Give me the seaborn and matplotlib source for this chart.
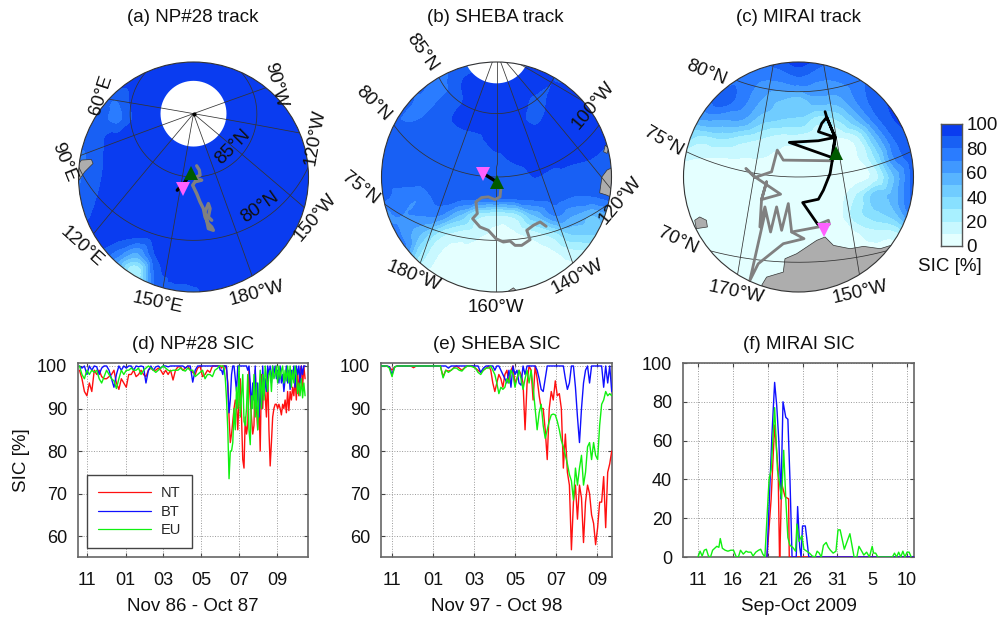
import numpy as np
import pandas as pd
import matplotlib
matplotlib.use("Agg")
import matplotlib.pyplot as plt
from matplotlib.colors import ListedColormap, BoundaryNorm
from matplotlib.patches import Circle, Polygon
from matplotlib.lines import Line2D
from matplotlib.tri import Triangulation, CubicTriInterpolator
import seaborn as sns

sns.set_theme(style="white")
plt.rcParams['font.family'] = ['Liberation Sans', 'DejaVu Sans']

W, H = 999, 619
# ---------------- SIC colour classes ----------------
sic_levels = [0, 10, 20, 30, 40, 50, 60, 70, 80, 90, 100]
sic_colors = ['#e4ffff', '#c8f8ff', '#a8f0ff', '#88e0ff', '#70ccff',
              '#58b4ff', '#4098ff', '#2a7cff', '#1860f4', '#0a3cf0']
TRK_GRAY = '#808080'
PINK = '#ff60ff'
DKGREEN = '#005a00'

sic_a = [
 [95]*13,
 [92,92,93,95,95,95,95,95,95,95,95,95,95],
 [85,85,80,95,95,95,95,95,95,95,95,95,95],
 [85,85,77,92,95,95,95,95,95,95,95,95,95],
 [85,88,93,95,95,95,95,95,95,95,95,95,95],
 [75,87,95,95,95,95,95,95,95,95,95,95,95],
 [78,88,95,95,95,95,95,95,95,95,95,95,95],
 [80,90,95,95,95,95,95,95,95,95,95,95,95],
 [85,92,95,95,95,95,95,95,95,95,95,95,95],
 [90,95,95,93,95,95,95,95,95,95,95,95,95],
 [95,90,75,58,90,95,95,95,95,95,95,95,95],
 [95,90,50,20,82,92,95,95,95,95,95,95,95],
 [95,95,90,70,85,88,88,95,95,95,95,95,95],
]
sic_b = [
 [85,85,85,85,85,85,85,90,90,90,90,90,90],
 [85,85,85,75,88,95,95,95,95,90,90,92,92],
 [85,85,78,80,88,95,95,95,88,92,95,95,95],
 [85,80,80,85,92,95,95,93,88,95,95,95,95],
 [85,85,85,85,85,88,95,95,95,95,95,95,90],
 [85,85,85,85,85,85,88,92,95,95,92,90,85],
 [85,85,85,85,85,85,85,85,90,85,85,85,85],
 [85,75,72,85,85,85,85,85,85,85,80,80,85],
 [70,70,70,70,50,25,20,25,50,70,60,50,60],
 [85,70,50,25,15,12,8,8,15,25,40,40,40],
 [85,75,30,10,8,8,5,5,5,8,15,15,15],
 [60,30,10,5,5,5,5,5,5,5,5,5,5],
 [5,5,5,5,5,5,5,5,5,5,5,5,5],
]
sic_c = [
 [75,75,75,80,80,85,95,85,75,75,85,90,95],
 [70,70,75,78,70,70,75,70,70,75,85,90,95],
 [70,75,85,75,60,50,45,55,55,70,85,92,95],
 [55,60,60,60,45,40,38,25,30,50,75,90,95],
 [35,25,30,25,20,15,15,10,8,15,50,80,90],
 [12,10,10,10,10,8,5,5,5,8,30,70,88],
 [5,5,5,5,5,5,5,5,3,5,15,50,85],
 [5,5,5,5,5,5,5,5,5,20,45,55,85],
 [5,5,5,5,5,5,5,5,5,25,35,45,75],
 [5,5,5,5,5,5,5,5,5,8,15,15,25],
 [5,5,5,5,5,5,5,5,5,5,5,5,8],
 [5]*13,
 [5]*13,
]

# ---------------- map frames (plane units; radius 344) ----------------
MAP_R = 344.0
map_cx = [193.5, 496.5, 798.5]
map_lat0 = [85.0, 80.0, 75.0]
map_lon0 = [160.0, -160.0, -160.0]
map_span = [9.1, 9.1, 6.75]
merid_a = [60, 90, 120, 150, 180, 210, 240, 270]
merid_b = [180, 200, 220, 240, 260]
merid_c = [190, 210]
parallels_a = [80, 85]
parallels_b = [75, 80, 85]
parallels_c = [70, 75, 80]
hole_lat = 87.4

# tracks, read in plane units from an origin at the top-left of each map box
track_a_black_x = [452, 435, 412]
track_a_black_y = [520, 545, 570]
track_a_gray_x = [470, 478, 480, 470, 465, 485, 465, 458, 470, 480, 490, 495, 505, 515, 520, 505, 500, 495, 505, 510, 505, 515]
track_a_gray_y = [497, 510, 525, 530, 537, 540, 545, 555, 580, 605, 625, 650, 670, 680, 690, 685, 660, 635, 610, 625, 650, 660]
track_b_black_x = [470, 430]
track_b_black_y = [545, 520]
track_b_gray_x = [483, 480, 465, 445, 425, 408, 412, 398, 420, 445, 468, 490, 510, 525, 545, 570, 560, 580, 600, 618]
track_b_gray_y = [560, 590, 598, 590, 592, 605, 640, 655, 680, 690, 715, 725, 722, 735, 735, 718, 690, 675, 665, 678]
track_c_black_x = [525, 530, 515, 505, 555, 505, 418, 545, 555, 530, 555, 548, 540, 520, 505, 458, 503]
track_c_black_y = [335, 352, 370, 395, 412, 422, 427, 472, 412, 352, 412, 472, 520, 570, 597, 607, 672]
track_c_gray_x = [548, 400, 382, 365, 315, 288, 315, 392, 335, 350, 335, 330, 345, 362, 380, 395, 415, 425, 462, 400, 325, 300, 345]
track_c_gray_y = [482, 480, 450, 515, 532, 505, 530, 582, 598, 545, 598, 680, 620, 695, 620, 690, 610, 695, 715, 730, 790, 840, 640]
track_c_gray2_x = [425, 505, 538, 535, 505]
track_c_gray2_y = [695, 680, 672, 660, 672]
start_pts = [(452, 518), (470, 545), (558, 460)]
end_pts = [(430, 566), (430, 521), (522, 688)]
land_a = [[(125,480),(155,478),(160,490),(135,515),(118,540),(112,500)]]
land_b = [[(778,578),(785,530),(800,510),(820,500),(820,595),(800,585)],
          [(795,435),(805,445),(800,460),(790,455)],
          [(505,872),(520,862),(537,878)]]
land_c = [[(335,855),(350,830),(400,815),(405,775),(440,760),(500,720),(525,710),(550,735),(600,745),(640,738),(690,745),(728,733),(760,780),(650,880),(400,890)],
          [(135,660),(150,650),(170,660),(173,680),(140,685)]]

map_titles = ['(a) NP#28 track', '(b) SHEBA track', '(c) MIRAI track']
map_labels = [
 [('60°E',101,95,72),('90°E',64,162,-68),('120°E',82,247,-42),('150°E',158,303,-12),
  ('180°W',257,293,15),('150°W',315,217,50),('120°W',315,137,80),('90°W',275,85,-75),
  ('85°N',233,147,45),('80°N',260,207,35)],
 [('85°N',422,53,-55),('80°N',373,104,-45),('75°N',360,188,-38),('100°W',593,105,50),
  ('120°W',620,200,50),('140°W',577,277,28),('160°W',496,308,0),('180°W',414,276,-22)],
 [('80°N',706,73,-22),('75°N',663,142,-30),('70°N',678,241,-25),('170°W',736,292,-12),
  ('150°W',860,292,13)],
]

# ---------------- time series ----------------
d_nt_early = [99,97,94,93,96,94,99,98,99,97.5,97,97,97.5,98,99,96,94.5,97,96,95,98,98,99,97.5,98,99,98,97.5,99,99.5,99,99,99.5,99,98,99,98,99,96.7,99,99.8,99.8,99,99.5,100,99,98.5,98,99.5,100,97.5,98,99,98.5,100,100]
d_bt_early = [100,99.5,100,98,100,99,100,99.8,98,99.5,100,100,99,97,95,98,100,99,100,99.5,100,100,99,100,99.8,100,99.8,96,99,100,99,99.8,100,99.5,100,100,99.8,100,100,100,100,100,100,99.5,100,100,96.2,99,100,100,100,100,100,100,100,100]
d_eu_early = [100,98,97,99,98,99,98.5,99,97,96,97.5,99,98,97,96.5,94.7,97,99,98,99,99,99.5,99,99,99.5,98,99,99.5,100,99.5,99,98.5,99,99.5,100,99.5,99,98.8,99,99,99,99.5,99,98.8,99.5,99,99,97.5,98,98.5,99,97,98,98,97.5,99]
d_nt_late = [100,100,100,99.5,100,100,100,99,96,88,82,84,87,90,92,91,85,92,97,88,78,76,88,84,86,99,92,88,84,86,99,90,85,92,80,98,90,97,93,88,99,85,76.5,82,88,90,91,91,90,91,90,88.5,91,90,92,89,94,89.5,94,92,95,93,97,92,99,93,99,100,95,100,97]
d_bt_late = [100,100,99,99,98,100,100,100,95,89,92,98,100,100,97,94,100,100,100,100,100,100,100,100,99,100,96,90,96,92,100,90,96,88,95,90,100,93,97,94,100,98,100,96,100,98,100,97,99,96,100,96,98,94,97,100,96,99,94.5,99,97,100,95,100,98,100,96,100,98,100,100]
d_eu_late = [99.5,100,100,100,100,99.5,97,92,85,73.5,80,80,82,90,85,95,90,100,88,93,98,87,86,90,98,85,81.5,93,90,98,88,96,85,93,99,90,98,92,100,97,94,98,99,94,100,97,98,100,96,100,97,99,100,96,99,96.5,100,96,100,95,99,96,100,98,93.5,96,93,97,92.5,96,93]
d_x_ticks = [0, 62, 122, 183, 244, 305]

e_nt_early = [100,100,100,99.8,99,99.8,100,100,100,100,100,100,99.6,100,100,100,100,100,100,100,100,100,100,97.5,99,98.8,99,99.6,100,99.5,99,99.6,100,100,100,99.5,99,98.5,99,99.5]
e_bt_early = [100,100,100,99.8,98,99.8,100,100,100,100,100,100,100,100,100,100,100,100,100,100,100,100,100,100,100,99.5,100,100,100,100,100,100,100,100,100,100,100,98.5,99.5,100]
e_eu_early = [100,100,100,99.5,97.5,99.8,100,100,100,100,100,100,100,100,100,100,100,100,100,100,100,100,100,97.2,99,98.5,99,99.5,99.5,99,98.8,99.5,100,100,99.8,99.5,98.5,98,99,99.5]
e_nt_late = [100,99,96,94,96,98,97,95,98,99,96,99,100,96,97,99,98,96,85,96,100,99,92,100,97,93,90,90,85,78,90,94,92,96.5,93,93.5,90,76,84,75,72,56.8,68,72,64,72,69,58.5,68,72,70,65,63,58,62,68,68,74,62,75,77,80]
e_bt_late = [100,100,100,99,100,100,99,98,97,96,99,95,100,98,99,96,95.5,100,98,100,100,100,100,100,99,97,94.5,94,97,100,100,100,100,100,100,100,100,100,97,94.5,96,100,100,95,88,82,90,96,99,100,96,100,100,100,100,100,100,95,100,96,100,94]
e_eu_late = [99.5,100,99,98,96,93.5,95,94.5,95,97,96,99,98,95,97,99,97,94.5,97,99,96,99,95,90,85,89,91,86,83,85,87,88.5,88.7,88.5,87,85,82.5,81,79,77,74.5,73,68.5,76,72,76,79,72,75,81,82,78,82,79,78,86,91,92,94,93,93.5,93]
e_x_ticks = [0, 61, 122, 183, 244, 305]

f_nt_days = [9.9, 10.2, 10.5, 11.0, 11.5, 11.7, 11.75, 12.0, 12.5, 13.0, 13.1, 31]
f_nt_vals = [0, 15, 30, 68, 45, 0, 0, 38, 31, 30, 0, 0]
f_bt_days = [9.9, 10.3, 10.6, 11.0, 11.3, 11.6, 11.9, 12.2, 12.6, 12.9, 13.2, 13.5, 14.1, 14.3, 14.6, 14.8, 15.0, 15.4, 15.6, 15.9, 31]
f_bt_vals = [0, 35, 62, 90, 78, 60, 30, 80, 72, 71, 40, 0, 0, 26, 5, 0, 16, 16, 10, 0, 0]
f_eu_days = [0,0.3,0.6,0.9,1.2,1.5,1.8,2.1,2.4,2.7,3.0,3.2,3.5,3.9,4.3,4.7,5.1,5.5,5.8,6.1,6.5,6.9,7.2,7.6,7.9,8.3,8.7,9.0,9.3,9.6,9.9,10.2,10.5,11.0,11.4,11.7,12.0,12.3,12.6,12.9,13.2,13.6,14.0,14.2,14.5,14.9,15.2,15.6,16.0,16.4,16.8,17.1,17.4,17.7,18.0,18.4,18.7,19.0,19.4,19.8,20.1,20.4,20.7,21.0,21.4,21.8,22.4,22.8,23.1,23.5,23.8,24.2,24.6,25.0,25.2,25.5,25.8,26.1,27.9,28.2,28.5,28.8,29.1,29.4,29.7,30.0,30.3,30.6]
f_eu_vals = [0,3,0.5,3.5,4,0.5,0,3.5,4.5,5.5,5,9.5,4.5,3.5,3,3.5,3.5,0,0,3.5,1.5,3,2.5,2.5,0.5,2.5,3.5,4,1.5,0,20,40,45,77,45,38,30,55,30,10,6,5,3,17,8,11,4,3,2,0.5,0,3,2,0,6,7.5,5,3.5,2,3,14,14,9,4,8,12,0,0,5.5,3,1,2.5,0,5.5,2,2,0,0,0,2,0,2.5,0,3,0,2.5,2.5,0]
f_x_ticks = [0, 5, 10, 15, 20, 25, 30]

series_names = ['NT', 'BT', 'EU']
series_colors = {'NT': '#ff1010', 'BT': '#1010ff', 'EU': '#10f010'}
panel_titles = ['(d) NP#28 SIC', '(e) SHEBA SIC', '(f) MIRAI SIC']
panel_xlabels = ['Nov 86 - Oct 87', 'Nov 97 - Oct 98', 'Sep-Oct 2009']
month_labels = ['11', '01', '03', '05', '07', '09']
day_labels = ['11', '16', '21', '26', '31', '5', '10']
cbar_ticks = [0, 20, 40, 60, 80, 100]

# ---------------- figure ----------------
fig = plt.figure(figsize=(W/100, H/100), dpi=100, facecolor='white')

def box(left, top, right, bottom):
    return fig.add_axes([left/W, 1-bottom/H, (right-left)/W, (bottom-top)/H])

cmap = ListedColormap(sic_colors)
norm = BoundaryNorm(sic_levels, cmap.N)
FS = 13.5
TICK_FS = 13

def project(lat, lon, lat0, lon0, span):
    la, lo = np.radians(lat), np.radians(np.asarray(lon) - lon0)
    la0 = np.radians(lat0)
    k = MAP_R / np.sin(np.radians(span))
    x = np.cos(la) * np.sin(lo)
    y = np.cos(la0) * np.sin(la) - np.sin(la0) * np.cos(la) * np.cos(lo)
    return k*x, k*y

fields = [sic_a, sic_b, sic_c]
merids = [merid_a, merid_b, merid_c]
pars = [parallels_a, parallels_b, parallels_c]
tracks = [
    [(track_a_black_x, track_a_black_y, 'black', 2.4), (track_a_gray_x, track_a_gray_y, TRK_GRAY, 2.4)],
    [(track_b_black_x, track_b_black_y, 'black', 2.4), (track_b_gray_x, track_b_gray_y, TRK_GRAY, 2.1)],
    [(track_c_gray_x, track_c_gray_y, TRK_GRAY, 2.0), (track_c_gray2_x, track_c_gray2_y, TRK_GRAY, 2.0),
     (track_c_black_x, track_c_black_y, 'black', 2.0)],
]
lands = [land_a, land_b, land_c]
zoom_cx = [460.5, 469.5, 445.5]

for i in range(3):
    cx = map_cx[i]
    ax = box(cx-115, 62, cx+115, 292)
    ax.set_xlim(-MAP_R, MAP_R); ax.set_ylim(-MAP_R, MAP_R)
    ax.set_aspect('equal'); ax.axis('off')
    clip = Circle((0, 0), MAP_R, transform=ax.transData)
    g = np.linspace(-MAP_R, MAP_R, 13)
    Z = np.array(fields[i], float)[::-1]
    GX, GY = np.meshgrid(g, g)
    smooth = CubicTriInterpolator(Triangulation(GX.ravel(), GY.ravel()), Z.ravel(), kind='geom')
    fine = np.linspace(-MAP_R, MAP_R, 160)
    FX, FY = np.meshgrid(fine, fine)
    FZ = np.clip(np.ma.filled(smooth(FX, FY), 50.0), 0.5, 99.5)
    cs = ax.contourf(fine, fine, FZ, levels=sic_levels, cmap=cmap, norm=norm, zorder=1)
    cs.set_clip_path(clip)
    if i < 2:
        hx, hy = project(np.full(73, hole_lat), np.linspace(-180, 180, 73), map_lat0[i], map_lon0[i], map_span[i])
        p = ax.fill(hx, hy, color='white', zorder=2, lw=0)[0]
        p.set_clip_path(clip)
    for poly in lands[i]:
        arr = np.array(poly, float)
        pg = Polygon(np.c_[arr[:, 0]-zoom_cx[i], 530.5-arr[:, 1]], fc='#adadad', ec='#333333', lw=0.5, zorder=3)
        ax.add_patch(pg); pg.set_clip_path(clip)
    lat_top = 90 if i == 0 else 89.9
    for lon in merids[i]:
        x, y = project(np.linspace(55, lat_top, 120), np.full(120, lon), map_lat0[i], map_lon0[i], map_span[i])
        l, = ax.plot(x, y, color='#333333', lw=0.55, zorder=4)
        l.set_clip_path(clip)
    for lat in pars[i]:
        lons = np.linspace(merids[i][0]-60, merids[i][-1]+60, 300) if i else np.linspace(0, 360, 400)
        x, y = project(np.full(lons.size, float(lat)), lons, map_lat0[i], map_lon0[i], map_span[i])
        l, = ax.plot(x, y, color='#333333', lw=0.55, zorder=4)
        l.set_clip_path(clip)
    if i == 0:
        ax.plot([0], [188], 'o', color='black', ms=2, zorder=5)
    for tx, ty, col, lw in tracks[i]:
        df = pd.DataFrame({'x': np.array(tx, float)-zoom_cx[i], 'y': 530.5-np.array(ty, float)})
        sns.lineplot(data=df, x='x', y='y', sort=False, estimator=None, color=col, lw=lw, ax=ax, zorder=6)
    sx, sy = start_pts[i]; ex, ey = end_pts[i]
    ax.plot(sx-zoom_cx[i], 530.5-sy, '^', color=DKGREEN, ms=10, mew=0, zorder=8)
    ax.plot(ex-zoom_cx[i], 530.5-ey, 'v', color=PINK, ms=10, mew=0, zorder=9)
    ax.add_patch(Circle((0, 0), MAP_R, fc='none', ec='#333333', lw=0.8, zorder=10, clip_on=False))
    ax.set_xlabel(''); ax.set_ylabel('')
    for s, px, py, rot in map_labels[i]:
        fig.text(px/W, 1-py/H, s, fontsize=FS, rotation=rot, ha='center', va='center',
                 rotation_mode='anchor', color='#111111')
    fig.text([193, 495, 798][i]/W, 1-17/H, map_titles[i], fontsize=FS, ha='center', va='center', color='#111111')

# colour bar
cax = box(941, 124, 962, 246)
cax.pcolormesh([0, 1], sic_levels, np.array(sic_levels[:-1])[:, None]+5, cmap=cmap, norm=norm)
cax.set_xticks([])
cax.yaxis.tick_right()
cax.set_yticks(cbar_ticks)
cax.set_yticklabels([str(t) for t in cbar_ticks], fontsize=FS, color='#111111')
cax.tick_params(axis='y', length=0, pad=3)
for s in cax.spines.values():
    s.set_color('#555555'); s.set_linewidth(1.0); s.set_visible(True)
fig.text(950/W, 1-267/H, 'SIC [%]', fontsize=FS, ha='center', va='center', color='#111111')

# time series
def step_days(start, step, n):
    return start + step*np.arange(n)

dfd = []
for name, early, late in zip(series_names, [d_nt_early, d_bt_early, d_eu_early], [d_nt_late, d_bt_late, d_eu_late]):
    dfd.append(pd.DataFrame({'day': np.r_[step_days(-12, 3.95, len(early)), step_days(210, 2, len(late))],
                             'sic': early+late, 'product': name}))
dfe = []
for name, early, late in zip(series_names, [e_nt_early, e_bt_early, e_eu_early], [e_nt_late, e_bt_late, e_eu_late]):
    dfe.append(pd.DataFrame({'day': np.r_[step_days(-16, 4, len(early)), step_days(144, 3, len(late))],
                             'sic': early+late, 'product': name}))
dff = [pd.DataFrame({'day': f_nt_days, 'sic': f_nt_vals, 'product': 'NT'}),
       pd.DataFrame({'day': f_bt_days, 'sic': f_bt_vals, 'product': 'BT'}),
       pd.DataFrame({'day': f_eu_days, 'sic': f_eu_vals, 'product': 'EU'})]
frames = [pd.concat(dfd), pd.concat(dfe), pd.concat(dff)]

specs = [
    dict(box=(78, 363, 308, 557), xlim=(-14.4, 354.7), ylim=(55.1, 100.7), xt=d_x_ticks, xl=month_labels, yt=[60,70,80,90,100]),
    dict(box=(381, 363, 612, 557), xlim=(-16.4, 327.4), ylim=(55.1, 100.7), xt=e_x_ticks, xl=month_labels, yt=[60,70,80,90,100]),
    dict(box=(683, 363, 914, 557), xlim=(-2.15, 31.0), ylim=(0, 100), xt=f_x_ticks, xl=day_labels, yt=[0,20,40,60,80,100]),
]
for i, sp in enumerate(specs):
    ax = box(*sp['box'])
    sns.lineplot(data=frames[i], x='day', y='sic', hue='product', hue_order=series_names,
                 palette=series_colors, estimator=None, lw=1.0, ax=ax, legend=False, zorder=3)
    ax.set_xlim(*sp['xlim']); ax.set_ylim(*sp['ylim'])
    ax.set_xticks(sp['xt']); ax.set_xticklabels(sp['xl'])
    ax.set_yticks(sp['yt'])
    ax.grid(True, ls=':', lw=0.7, color='#999999', zorder=0)
    ax.set_axisbelow(True)
    ax.tick_params(axis='both', direction='in', length=3, width=0.8, color='#444444',
                   labelsize=TICK_FS, labelcolor='#111111', top=True, right=True, bottom=True, left=True, pad=8)
    ax.tick_params(axis='x', pad=10.5)
    for s in ax.spines.values():
        s.set_visible(True); s.set_color('#666666'); s.set_linewidth(1.2)
    ax.set_title(panel_titles[i], fontsize=FS, color='#111111', pad=10)
    ax.set_xlabel(panel_xlabels[i], fontsize=FS, color='#111111', labelpad=7)
    ax.set_ylabel('SIC [%]' if i == 0 else '', fontsize=FS, color='#111111', labelpad=4.5)
    if i == 0:
        handles = [Line2D([], [], color=series_colors[n], lw=0.9, label=n) for n in series_names]
        leg = ax.legend(handles=handles, loc='lower left', bbox_to_anchor=(9/230, 9/194), borderaxespad=0,
                        fontsize=10.5, frameon=True, fancybox=False, framealpha=1, edgecolor='#444444',
                        handlelength=3.63, labelspacing=0.3, handletextpad=0.7, borderpad=0.75)
        leg.get_frame().set_linewidth(1.0)
        leg.set_zorder(6)

fig.savefig('out.png', dpi=100, facecolor='white')
